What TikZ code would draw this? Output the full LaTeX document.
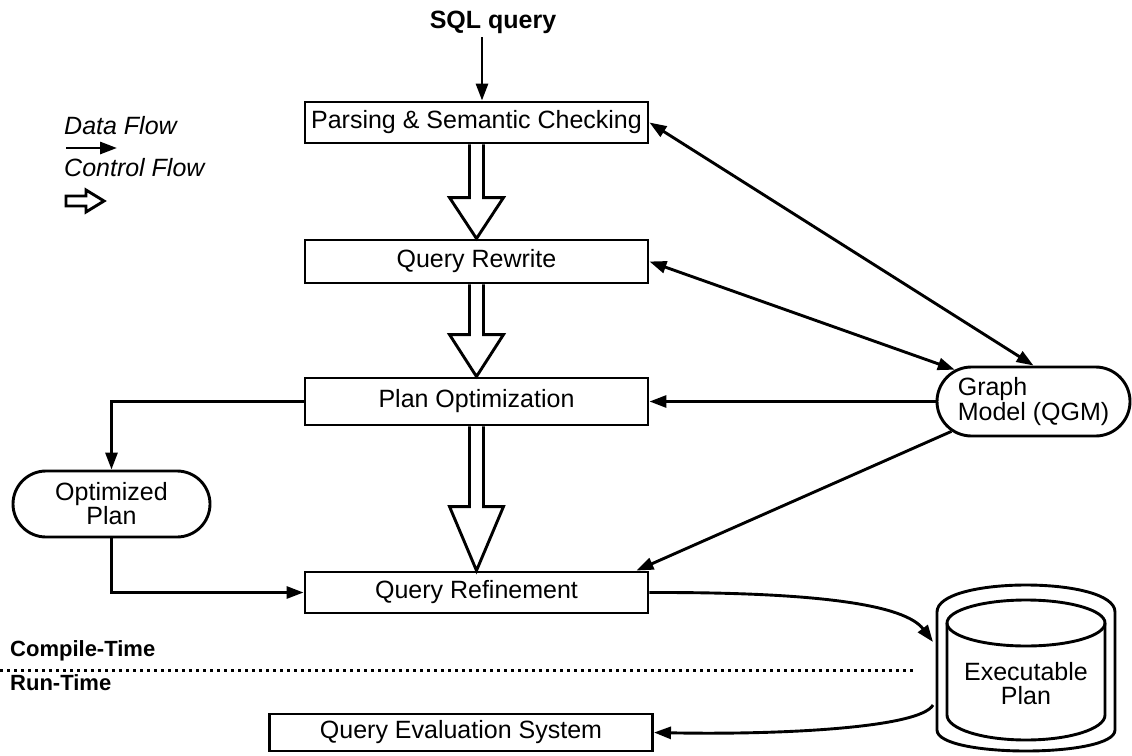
\documentclass[tikz,border=0pt]{standalone}
\usepackage{fontspec}
\setmainfont{Liberation Sans}
\usetikzlibrary{arrows.meta,shapes.misc,calc}
\tikzset{
  lw/.style={line width=2.9pt},
  txt/.style={font=\fontsize{25}{24}\selectfont},
  box/.style={lw, draw, txt, minimum width=343pt, inner sep=0pt},
  roundbox/.style={lw, draw, txt, rounded rectangle, inner sep=0pt, align=center},
  arr/.style={lw, -{Triangle[length=17pt,width=12pt]}},
  darr/.style={lw, {Triangle[length=17pt,width=12pt]}-{Triangle[length=17pt,width=12pt]}},
  hollow/.style={lw, draw, fill=white, line join=miter},
  lbl/.style={font=\fontsize{22}{24}\selectfont\bfseries, anchor=west, inner sep=0pt},
}
\newcommand\hollowdn[3]{%
  \draw[hollow] ($(#1)+(-7,0)$) -- ($(#2)+(-7,-#3)$) -- ($(#2)+(-27,-#3)$) -- (#2)
    -- ($(#2)+(27,-#3)$) -- ($(#2)+(7,-#3)$) -- ($(#1)+(7,0)$);}
\begin{document}
\begin{tikzpicture}[x=1pt,y=-1pt]
\useasboundingbox (0,0) rectangle (1132,755);

% legend
\node[txt, font=\fontsize{25}{22}\selectfont\itshape, anchor=west, inner sep=0pt] (dflow) at (64,126) {Data Flow};
\coordinate (ds) at (66,148);
\coordinate (de) at (117,148);
\draw[arr] (ds) -- (de);
\node[txt, font=\fontsize{25}{22}\selectfont\itshape, anchor=west, inner sep=0pt] (cflow) at (64,168) {Control Flow};
\coordinate (cs) at (66,201);
\draw[hollow] (cs) ++(0,-5) -- ++(20,0) -- ++(0,-6) -- ++(18,11) -- ++(-18,11) -- ++(0,-6) -- ++(-20,0) -- cycle;

% main boxes
\node[txt, font=\fontsize{25}{22}\selectfont\bfseries] (sql) at (493,22) {SQL query};
\node[box, minimum height=41pt] (parse) at (476.5,122.5) {Parsing \& Semantic Checking};
\node[box, minimum height=43pt] (rewrite) at (476.5,261.5) {Query Rewrite};
\node[box, minimum height=47pt] (planopt) at (476.5,401.5) {Plan Optimization};
\node[box, minimum height=41pt] (refine) at (476.5,592.5) {Query Refinement};
\node[box, minimum width=383pt, minimum height=37pt] (qes) at (461,732.5) {Query Evaluation System};

\node[roundbox, minimum width=197pt, minimum height=66pt] (optplan) at (111.5,504) {Optimized\\Plan};
\node[roundbox, minimum width=193pt, minimum height=69pt, align=left, font=\fontsize{25}{22}\selectfont] (qgm) at (1033.5,401.5) {Graph\\Model (QGM)};

% executable plan (cylinder)
\draw[lw] (937,612) -- (937,730) .. controls (937,758) and (1115,758) .. (1115,730)
  -- (1115,612) .. controls (1115,576) and (937,576) .. cycle;
\draw[lw] (1026,623) ellipse [x radius=79pt, y radius=23pt];
\draw[lw] (947,623) -- (947,715) arc[start angle=180, end angle=360, x radius=79pt, y radius=25pt] -- (1105,623);
\node[txt, align=center, inner sep=0pt] (exec) at (1026,684) {Executable\\Plan};
\coordinate (execin) at (933,642);
\coordinate (execout) at (933,705);

% compile / run time
\node[lbl] (ct) at (10,651) {Compile-Time};
\node[lbl] (rt) at (10,683) {Run-Time};
\coordinate (dl) at (0,670);
\coordinate (dr) at (915,670);
\draw[line width=3pt, dash pattern=on 3pt off 4pt] (dl) -- (dr);

% control flow
\hollowdn{parse.south}{rewrite.north}{41}
\hollowdn{rewrite.south}{planopt.north}{42}
\hollowdn{planopt.south}{refine.north}{64}

% data flow
\coordinate (sqlout) at (482,37);
\draw[arr] (sqlout) -- (sqlout |- parse.north);
\draw[darr] (parse.east) -- (qgm.north);
\draw[darr] (rewrite.east) -- (qgm.158);
\draw[arr] (qgm.west) -- (planopt.east);
\draw[arr] (qgm.200) -- ($(refine.north east)+(-13,0)$);
\draw[arr] (planopt.west) -| (optplan.north);
\draw[arr] (optplan.south) |- (refine.west);
\draw[arr] (refine.east) .. controls (820,592) and (905,605) .. (execin);
\draw[arr] (execout) .. controls (920,728) and (780,735) .. (qes.east);
\end{tikzpicture}
\end{document}
